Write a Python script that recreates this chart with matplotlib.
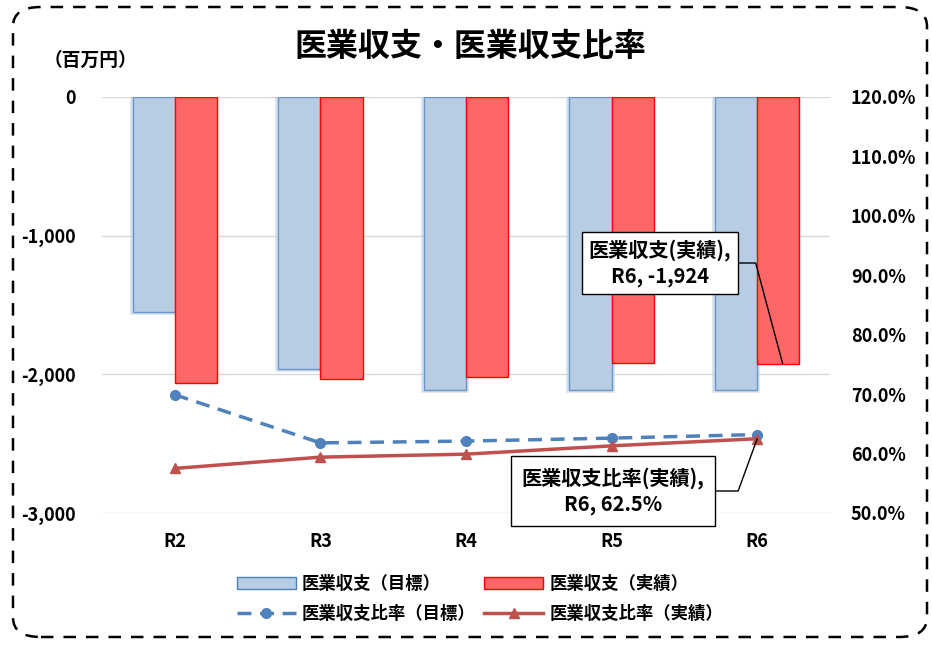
import matplotlib
matplotlib.use("Agg")
import numpy as np
from matplotlib import pyplot as plt
from matplotlib.patches import FancyBboxPatch, Patch
from matplotlib.lines import Line2D
from matplotlib.ticker import FuncFormatter

plt.rcParams['font.family'] = ['Noto Sans CJK JP', 'DejaVu Sans']
plt.rcParams['font.weight'] = 'bold'

categories = ['R2', 'R3', 'R4', 'R5', 'R6']
income_target = [-1550, -1965, -2110, -2110, -2110]
income_actual = [-2065, -2035, -2020, -1918, -1924]
ratio_target = [69.9, 61.8, 62.1, 62.6, 63.2]
ratio_actual = [57.5, 59.4, 59.9, 61.3, 62.5]
left_ticks = [0, -1000, -2000, -3000]
right_ticks = [50, 60, 70, 80, 90, 100, 110, 120]

W, H = 932, 645
fig = plt.figure(figsize=(W / 100, H / 100), dpi=100)

# dashed rounded frame round the whole figure
frame = FancyBboxPatch((13 / W, 8 / H), 914 / W, 630 / H,
                       boxstyle="round,pad=0,rounding_size=0.03",
                       transform=fig.transFigure, fill=False,
                       edgecolor='black', linewidth=1.8, linestyle=(0, (5, 4)))
fig.patches.append(frame)

ax = fig.add_axes([102 / W, 1 - 513 / H, 728 / W, 416 / H])
ax2 = ax.twinx()

x = np.arange(len(categories))
w = 0.29
# soft glow under the target bars
ax.bar(x - w / 2, income_target, w, color='none', edgecolor='#B8CCE4',
       linewidth=4, alpha=0.6, zorder=2)
ax.bar(x - w / 2, income_target, w, color='#B8CCE4', edgecolor='#6A95C9',
       linewidth=1.0, zorder=2)
ax.bar(x + w / 2, income_actual, w, color='#FF6666', edgecolor='#FF0000',
       linewidth=1.0, zorder=2)

ax.set_xlim(-0.5, len(categories) - 0.5)
ax.set_ylim(-3000, 0)
ax.set_yticks(left_ticks)
ax.yaxis.set_major_formatter(FuncFormatter(lambda v, p: f"{int(v):,}"))
ax.grid(axis='y', color='#D9D9D9', linewidth=1.0, zorder=0)
ax.set_axisbelow(True)
ax.set_xticks(x)
ax.set_xticklabels(categories)
ax.tick_params(length=0, labelsize=13, pad=14)
ax.tick_params(axis='y', pad=19)
for s in ax.spines.values():
    s.set_visible(False)

ax2.plot(x, ratio_target, color='#4F81BD', linewidth=2.5, linestyle=(0, (4, 2.5)),
         marker='o', markersize=7, zorder=3)
ax2.plot(x, ratio_actual, color='#C0504D', linewidth=2.5, marker='^',
         markersize=7, zorder=3)
ax2.set_ylim(50, 120)
ax2.set_yticks(right_ticks)
ax2.yaxis.set_major_formatter(FuncFormatter(lambda v, p: f"{v:.1f}%"))
ax2.tick_params(length=0, labelsize=13, pad=15)
for s in ax2.spines.values():
    s.set_visible(False)

fig.text(470 / W, 1 - 47 / H, '医業収支・医業収支比率', ha='center', va='center',
         fontsize=23, fontweight='bold')
fig.text(90 / W, 1 - 60 / H, '（百万円）', ha='center', va='center',
         fontsize=13.5, fontweight='bold')

# data labels with leader lines
ax.annotate('医業収支(実績),\nR6, -1,924', xy=(x[4] + w / 2 + 0.03, income_actual[4]),
            xytext=(660, H - 263), textcoords='figure pixels',
            ha='center', va='center', fontsize=14.5, fontweight='bold',
            linespacing=1.3, zorder=5,
            bbox=dict(boxstyle='square,pad=0.35', facecolor='white',
                      edgecolor='black', linewidth=1.0),
            arrowprops=dict(arrowstyle='-', color='black', linewidth=1.0,
                            shrinkA=0, shrinkB=0, relpos=(1, 0.5),
                            connectionstyle='angle,angleA=0,angleB=-75,rad=0'))
ax2.annotate('医業収支比率(実績),\nR6, 62.5%', xy=(x[4], ratio_actual[4]),
             xytext=(613, H - 491), textcoords='figure pixels',
             ha='center', va='center', fontsize=14.5, fontweight='bold',
             linespacing=1.3, zorder=5,
             bbox=dict(boxstyle='square,pad=0.55', facecolor='white',
                       edgecolor='black', linewidth=1.0),
             arrowprops=dict(arrowstyle='-', color='black', linewidth=1.0,
                             shrinkA=0, shrinkB=0, relpos=(1, 0.5),
                             connectionstyle='angle,angleA=0,angleB=70,rad=0'))

handles = [
    Patch(facecolor='#B8CCE4', edgecolor='#4F81BD', linewidth=1.0),
    Line2D([], [], color='#4F81BD', linewidth=2.5, linestyle=(0, (4, 2.5)),
           marker='o', markersize=7),
    Patch(facecolor='#FF6666', edgecolor='#FF0000', linewidth=1.0),
    Line2D([], [], color='#C0504D', linewidth=2.5, marker='^', markersize=7),
]
labels = ['医業収支（目標）', '医業収支比率（目標）', '医業収支（実績）', '医業収支比率（実績）']
fig.legend(handles, labels, ncol=2, loc='center', bbox_to_anchor=(480 / W, 1 - 599 / H),
           frameon=False, handlelength=3.4, handleheight=0.7,
           columnspacing=0.5, labelspacing=0.7, handletextpad=0.35,
           prop={'weight': 'bold', 'size': 12.5})

fig.savefig('out.png', dpi=100)
